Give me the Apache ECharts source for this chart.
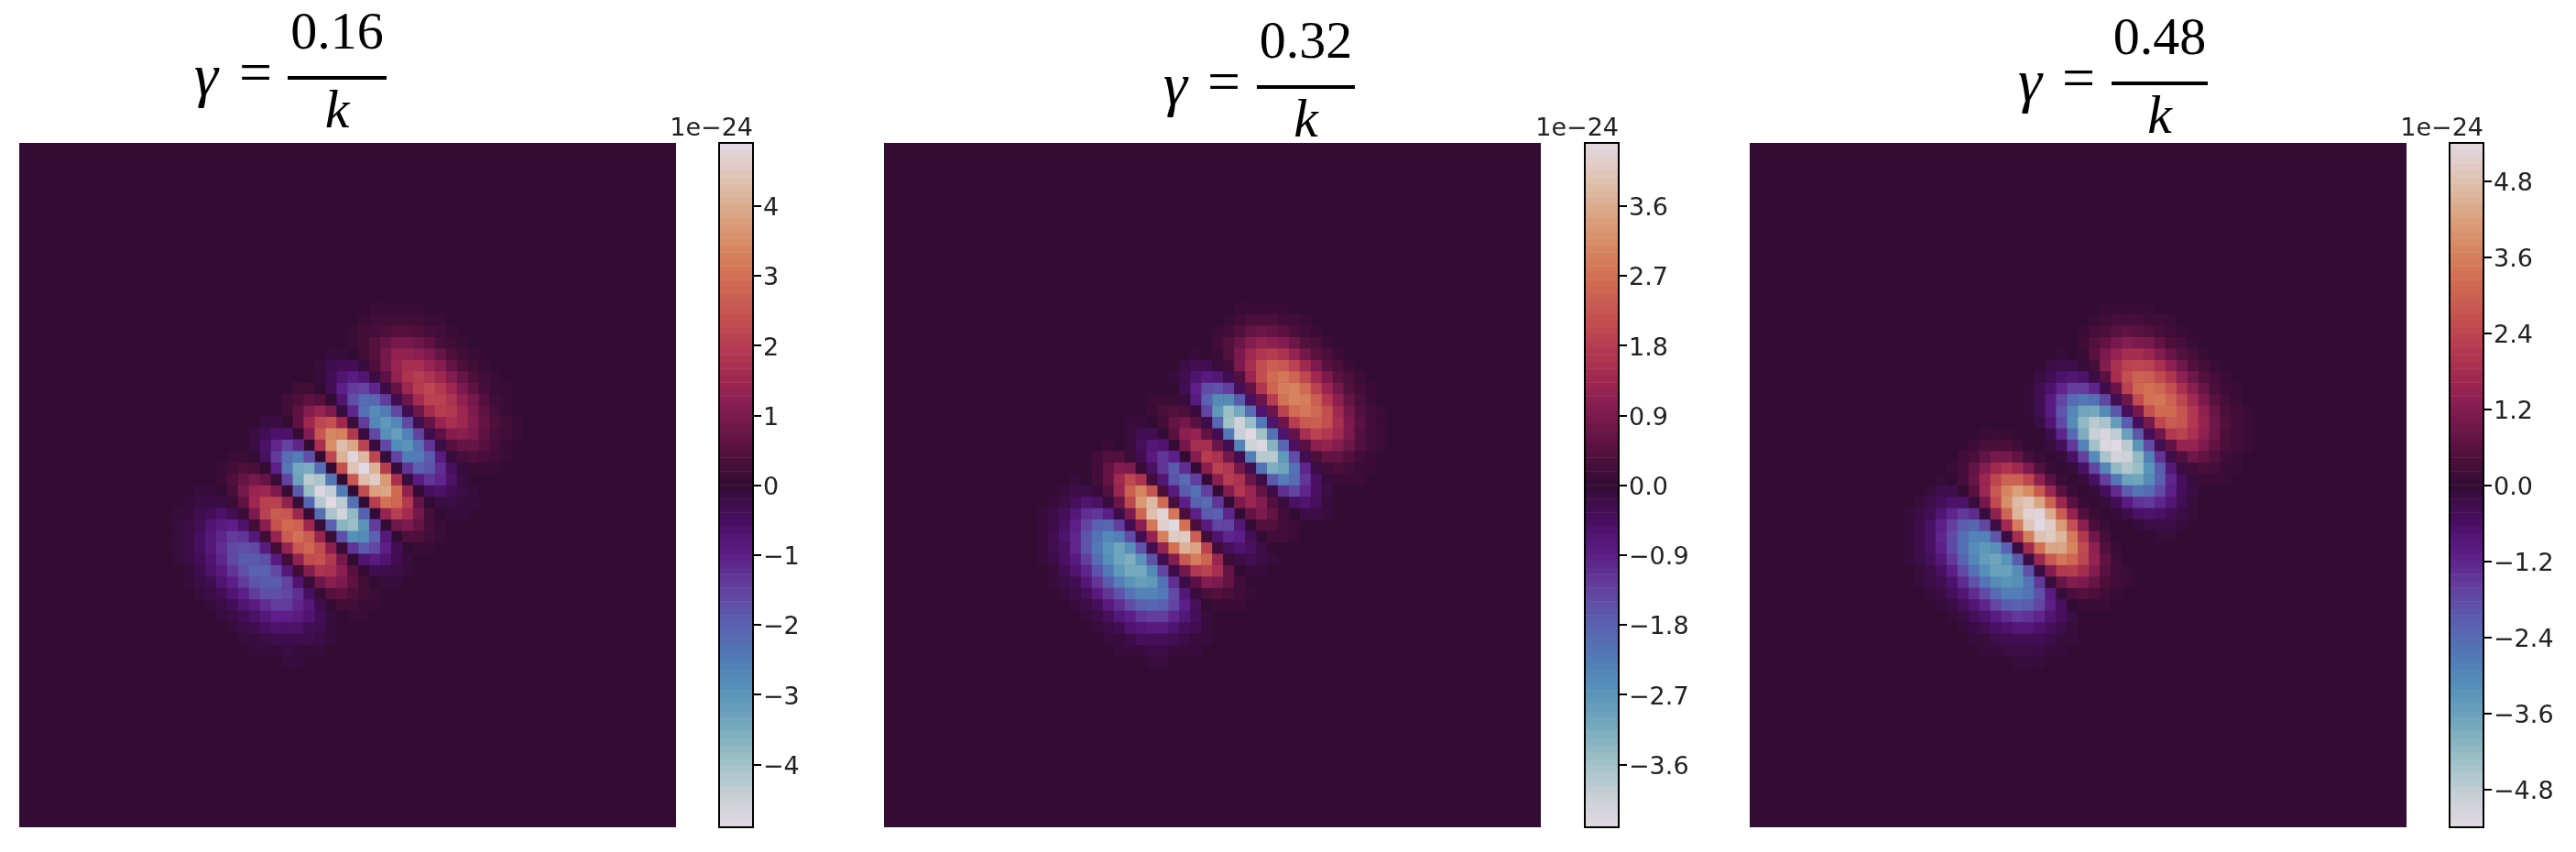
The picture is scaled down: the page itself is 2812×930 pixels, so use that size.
<!DOCTYPE html>
<html>

<head>
	<meta charset="utf-8">
	<title>gamma heatmaps</title>
	<script src="https://cdn.jsdelivr.net/npm/echarts@6/dist/echarts.min.js"></script>
	<style>
		html, body { margin: 0; padding: 0; background: #fff; }
	</style>
</head>

<body>
	<div id="main" style="width: 2812px;height: 930px;"></div>
	<script type="text/javascript">
		// values are read off the picture, in units of 0.1e-24
		// each line is one diagonal of the image (upper left to lower right), first line lower left of the pattern, last line upper right
		var panel1Diagonals = [
			[0,0,0,-1,-1,-1,-1,-1,-1,-1,0,0,0],
			[0,0,-1,-1,-2,-2,-2,-2,-2,-1,-1,0,0,0],
			[0,-1,-2,-3,-3,-4,-4,-4,-3,-2,-1,-1,0],
			[0,-1,-2,-4,-6,-7,-7,-7,-6,-5,-3,-2,-1,0],
			[-1,-2,-5,-7,-9,-10,-10,-9,-8,-6,-3,-1,0],
			[-1,-2,-5,-8,-11,-13,-14,-14,-12,-10,-6,-3,-1,0],
			[-1,-4,-8,-12,-16,-17,-18,-17,-14,-10,-6,-3,-1],
			[-1,-3,-7,-11,-16,-19,-20,-19,-17,-14,-9,-4,-2,0],
			[-2,-4,-9,-14,-17,-19,-20,-19,-16,-11,-7,-3,-1],
			[-1,-2,-6,-10,-13,-16,-17,-16,-15,-12,-8,-4,-1,0],
			[-1,-2,-4,-6,-8,-9,-9,-8,-7,-5,-3,-1,0],
			[0,0,1,1,2,2,2,2,2,1,1,0,0,0],
			[1,3,6,10,12,14,14,13,11,8,5,2,1],
			[1,4,9,15,21,24,26,25,23,18,12,6,2,1],
			[2,7,14,21,26,29,30,28,24,17,10,4,1],
			[1,4,9,15,21,25,27,26,23,19,12,6,2,1],
			[1,3,7,10,13,15,15,14,12,9,5,2,1],
			[0,0,0,1,1,1,1,1,1,1,0,0,0,0],
			[-2,-5,-10,-15,-19,-21,-22,-20,-17,-13,-7,-3,-1],
			[-2,-6,-14,-24,-33,-39,-42,-41,-37,-29,-19,-9,-3,-1],
			[-4,-11,-22,-34,-43,-48,-49,-46,-39,-28,-16,-7,-2],
			[-2,-6,-15,-25,-35,-41,-44,-43,-38,-30,-20,-10,-4,-1],
			[-2,-6,-11,-17,-22,-24,-25,-23,-20,-14,-8,-4,-1],
			[],
			[2,6,11,17,22,24,25,23,20,14,8,4,1],
			[2,6,15,25,35,41,44,43,38,30,20,10,4,1],
			[4,11,22,34,43,48,49,46,39,28,16,7,2],
			[2,6,14,24,33,39,42,41,37,29,19,9,3,1],
			[2,5,10,15,19,21,22,20,17,13,7,3,1],
			[0,0,0,-1,-1,-1,-1,-1,-1,-1,0,0,0,0],
			[-1,-4,-7,-11,-14,-16,-16,-15,-13,-9,-5,-2,-1],
			[-1,-4,-10,-17,-23,-27,-29,-28,-25,-20,-13,-6,-2,-1],
			[-3,-7,-14,-22,-28,-31,-32,-30,-25,-18,-11,-4,-1],
			[-1,-4,-9,-15,-21,-25,-27,-26,-23,-19,-12,-6,-2,-1],
			[-1,-4,-7,-11,-14,-16,-16,-15,-13,-9,-5,-2,-1],
			[0,0,-1,-2,-2,-3,-3,-3,-3,-2,-1,-1,0,0],
			[1,2,4,6,7,8,8,7,6,5,3,1,0],
			[1,2,5,9,13,15,16,16,14,11,7,4,1,0],
			[2,5,9,14,18,20,21,20,17,12,7,3,1],
			[1,3,7,13,17,20,22,21,19,15,10,5,2,0],
			[2,4,9,13,17,18,19,18,15,11,6,3,1],
			[1,2,5,9,12,14,15,15,13,10,7,3,1,0],
			[1,2,5,8,10,11,11,10,9,6,4,2,0],
			[0,1,2,4,6,7,7,7,6,5,3,2,1,0],
			[0,1,2,3,3,4,4,4,3,2,1,1,0],
			[0,0,1,1,2,2,2,2,2,1,1,0,0,0],
			[0,0,0,1,1,1,1,1,1,1,0,0,0]
		];
		var panel2Diagonals = [
			[0,0,0,-1,-1,-1,-1,-1,-1,-1,0,0,0],
			[0,0,-1,-1,-2,-2,-2,-2,-2,-1,-1,0,0,0],
			[0,-1,-2,-3,-3,-4,-4,-4,-3,-2,-1,-1,0],
			[0,-1,-3,-5,-6,-7,-8,-8,-7,-6,-4,-2,-1,0],
			[-1,-3,-5,-8,-10,-12,-12,-11,-9,-7,-4,-2,0],
			[-1,-2,-6,-10,-13,-16,-17,-16,-15,-12,-8,-4,-1,0],
			[-2,-5,-10,-16,-20,-22,-23,-21,-18,-13,-8,-3,-1],
			[-1,-4,-9,-16,-22,-26,-28,-27,-24,-19,-13,-6,-2,-1],
			[-2,-7,-14,-21,-27,-30,-31,-29,-24,-18,-10,-4,-1],
			[-1,-4,-11,-18,-25,-30,-32,-31,-28,-22,-14,-7,-3,-1],
			[-2,-6,-12,-19,-23,-26,-27,-25,-21,-15,-9,-4,-1],
			[-1,-2,-5,-9,-13,-15,-16,-16,-14,-11,-7,-4,-1,0],
			[0,-1,-1,-2,-3,-3,-3,-3,-2,-2,-1,0,0],
			[0,2,4,7,9,11,12,12,10,8,5,3,1,0],
			[2,6,13,20,25,28,29,27,23,17,10,4,1],
			[2,6,14,24,33,39,42,41,37,29,19,9,3,1],
			[4,10,20,30,38,43,44,41,35,25,15,6,2],
			[1,4,9,16,22,26,28,27,24,19,13,6,2,1],
			[0,1,1,2,3,3,3,3,2,2,1,0,0],
			[0,-1,-3,-5,-7,-8,-9,-9,-8,-6,-4,-2,-1,0],
			[-1,-4,-8,-12,-16,-17,-18,-17,-14,-10,-6,-3,-1],
			[-1,-3,-7,-12,-17,-20,-21,-20,-18,-14,-9,-5,-2,0],
			[-1,-3,-6,-9,-11,-13,-13,-12,-10,-7,-4,-2,-1],
			[],
			[1,2,5,8,10,11,11,10,9,6,4,2,0],
			[1,3,6,11,15,18,19,18,17,13,9,4,2,0],
			[1,4,8,12,15,16,17,16,13,10,6,2,1],
			[0,1,3,5,6,7,8,8,7,6,4,2,1,0],
			[0,-1,-1,-2,-3,-3,-3,-3,-2,-2,-1,0,0],
			[-1,-3,-8,-14,-19,-22,-24,-23,-21,-17,-11,-5,-2,0],
			[-3,-9,-18,-28,-36,-40,-41,-38,-32,-23,-14,-6,-2],
			[-2,-6,-15,-25,-35,-41,-44,-43,-38,-30,-20,-10,-4,-1],
			[-3,-8,-16,-25,-31,-35,-36,-33,-28,-21,-12,-5,-1],
			[-1,-3,-7,-13,-17,-20,-22,-21,-19,-15,-10,-5,-2,0],
			[0,-1,-3,-4,-5,-6,-6,-6,-5,-3,-2,-1,0],
			[0,1,2,4,6,7,7,7,6,5,3,2,1,0],
			[2,4,9,13,17,18,19,18,15,11,6,3,1],
			[1,4,9,15,21,25,27,26,23,19,12,6,2,1],
			[2,7,14,21,26,29,30,28,24,17,10,4,1],
			[1,4,10,17,24,28,30,29,26,21,14,7,2,1],
			[2,6,12,18,23,25,26,24,21,15,9,4,1],
			[1,3,7,11,16,19,20,19,17,14,9,4,2,0],
			[1,3,6,10,12,14,14,13,11,8,5,2,1],
			[0,1,3,5,7,8,9,9,8,6,4,2,1,0],
			[0,1,2,3,4,5,5,5,4,3,2,1,0],
			[0,0,1,2,2,3,3,3,3,2,1,1,0,0],
			[0,0,0,1,1,1,1,1,1,1,0,0,0]
		];
		var panel3Diagonals = [
			[0,0,0,-1,-1,-1,-1,-1,-1,-1,0,0,0],
			[0,0,-1,-1,-2,-2,-2,-2,-2,-1,-1,0,0,0],
			[0,-1,-2,-3,-4,-5,-5,-5,-4,-3,-2,-1,0],
			[0,-1,-3,-5,-6,-7,-8,-8,-7,-6,-4,-2,-1,0],
			[-1,-3,-6,-9,-11,-13,-13,-12,-10,-7,-4,-2,-1],
			[-1,-3,-6,-11,-15,-18,-19,-18,-17,-13,-9,-4,-2,0],
			[-2,-6,-12,-18,-23,-25,-26,-24,-21,-15,-9,-4,-1],
			[-1,-4,-11,-18,-25,-30,-32,-31,-28,-22,-14,-7,-3,-1],
			[-3,-8,-16,-25,-31,-35,-36,-33,-28,-21,-12,-5,-1],
			[-1,-5,-12,-21,-29,-34,-37,-36,-32,-26,-17,-8,-3,-1],
			[-3,-7,-15,-23,-29,-32,-33,-31,-26,-19,-11,-5,-1],
			[-1,-3,-7,-13,-17,-20,-22,-21,-19,-15,-10,-5,-2,0],
			[0,0,-1,-1,-2,-2,-2,-2,-2,-1,-1,0,0],
			[1,3,6,10,14,17,18,17,16,12,8,4,1,0],
			[3,8,16,25,31,35,36,33,28,21,12,5,1],
			[2,7,16,28,39,46,49,48,43,34,22,11,4,1],
			[4,12,24,37,47,52,54,50,43,31,18,8,2],
			[2,7,17,30,42,49,53,51,46,37,24,12,4,1],
			[4,10,20,30,38,43,44,41,35,25,15,6,2],
			[1,4,10,17,24,28,30,29,26,21,14,7,2,1],
			[1,4,7,11,14,16,16,15,13,9,5,2,1],
			[0,1,2,3,5,6,6,6,5,4,3,1,0,0],
			[0,0,0,1,1,1,1,1,1,1,0,0,0],
			[],
			[0,0,0,-1,-1,-1,-1,-1,-1,-1,0,0,0],
			[0,-1,-2,-3,-5,-6,-6,-6,-5,-4,-3,-1,0,0],
			[-1,-4,-8,-12,-15,-16,-17,-16,-13,-10,-6,-2,-1],
			[-1,-4,-10,-18,-24,-29,-31,-30,-27,-21,-14,-7,-2,-1],
			[-4,-10,-20,-31,-39,-44,-45,-42,-36,-26,-15,-6,-2],
			[-2,-7,-17,-30,-42,-49,-53,-51,-46,-37,-24,-12,-4,-1],
			[-4,-12,-24,-37,-47,-52,-54,-50,-43,-31,-18,-8,-2],
			[-2,-7,-16,-27,-38,-45,-48,-47,-42,-33,-22,-11,-4,-1],
			[-3,-8,-16,-25,-31,-35,-36,-33,-28,-21,-12,-5,-1],
			[-1,-3,-7,-12,-17,-20,-21,-20,-18,-14,-9,-5,-2,0],
			[0,-1,-2,-3,-4,-5,-5,-5,-4,-3,-2,-1,0],
			[0,1,3,6,8,9,10,10,9,7,5,2,1,0],
			[2,6,12,18,23,25,26,24,21,15,9,4,1],
			[1,5,11,19,26,31,33,32,29,23,15,7,3,1],
			[3,7,15,23,30,33,34,32,27,19,11,5,1],
			[1,4,10,18,24,29,31,30,27,21,14,7,2,1],
			[2,6,12,18,23,25,26,24,21,15,9,4,1],
			[1,3,7,11,16,19,20,19,17,14,9,4,2,0],
			[1,3,6,10,12,14,14,13,11,8,5,2,1],
			[0,1,3,5,7,8,9,9,8,6,4,2,1,0],
			[0,1,2,3,4,5,5,5,4,3,2,1,0],
			[0,0,1,2,2,3,3,3,3,2,1,1,0,0],
			[0,0,0,1,1,1,1,1,1,1,0,0,0]
		];

		var numerators = ['0.16', '0.32', '0.48'];
		var colorLimits = [4.9, 4.41, 5.4];
		var tickValues = [
			[-4, -3, -2, -1, 0, 1, 2, 3, 4],
			[-3.6, -2.7, -1.8, -0.9, 0, 0.9, 1.8, 2.7, 3.6],
			[-4.8, -3.6, -2.4, -1.2, 0, 1.2, 2.4, 3.6, 4.8]
		];
		var tickDecimals = [0, 1, 1];
		// bands of the colour bar, as a share of the colour limit
		var barLevels = [-0.99, -0.97, -0.95, -0.93, -0.91, -0.89, -0.87, -0.85, -0.83, -0.81, -0.79, -0.77, -0.75, -0.73, -0.71, -0.69, -0.67, -0.65, -0.63, -0.61, -0.59, -0.57, -0.55, -0.53, -0.51, -0.49, -0.47, -0.45, -0.43, -0.41, -0.39, -0.37, -0.35, -0.33, -0.31, -0.29, -0.27, -0.25, -0.23, -0.21, -0.19, -0.17, -0.15, -0.13, -0.11, -0.09, -0.07, -0.05, -0.03, -0.01, 0.01, 0.03, 0.05, 0.07, 0.09, 0.11, 0.13, 0.15, 0.17, 0.19, 0.21, 0.23, 0.25, 0.27, 0.29, 0.31, 0.33, 0.35, 0.37, 0.39, 0.41, 0.43, 0.45, 0.47, 0.49, 0.51, 0.53, 0.55, 0.57, 0.59, 0.61, 0.63, 0.65, 0.67, 0.69, 0.71, 0.73, 0.75, 0.77, 0.79, 0.81, 0.83, 0.85, 0.87, 0.89, 0.91, 0.93, 0.95, 0.97, 0.99];

		// twilight_shifted, by eye
		var colormap = ['#e2d9e2', '#c5cfd5', '#9bbfc6', '#74a8bd', '#5692b9', '#5279b6', '#5a5fb0', '#64409f', '#5c1d87', '#470f5e', '#330c34', '#55103f', '#7b1a4f', '#9c2650', '#b53a50', '#c65450', '#d16d52', '#d68a62', '#dba786', '#dfc4b5', '#e2d9e2'];
		var zeroColor = '#330c34';

		var panels = [panel1Diagonals, panel2Diagonals, panel3Diagonals];
		var imageLeft = [21, 965, 1910];
		var barLeft = [785, 1730, 2674];
		var plotTop = 156;
		var plotWidth = 717;
		var plotHeight = 747;
		var barWidth = 37;
		var cells = 60;
		// title layout: gamma x, equals x, fraction rule start, end, rule y
		var titleLayout = [
			[225, 279, 314, 422, 85],
			[1283, 1336, 1372, 1479, 95],
			[2216, 2269, 2305, 2410, 91]
		];

		var cellIndex = [];
		for (var c = 0; c < cells; c++) cellIndex.push(c);

		// walk the diagonals onto image cells
		function toCells(diagonals) {
			var out = [];
			diagonals.forEach(function (line, n) {
				var k = n - 23;
				var first = k % 2 === 0 ? -13 : -12;
				line.forEach(function (v, p) {
					var m = first + 2 * p;
					var col = cells / 2 + (k + m - 1) / 2;
					var row = cells / 2 + (m - 1 - k) / 2;
					out.push([col, row, v / 10]);
				});
			});
			return out;
		}

		var grid = [], xAxis = [], yAxis = [], series = [], visualMap = [], graphic = [];
		var blackLine = { show: true, onZero: false, lineStyle: { color: '#000', width: 2 } };

		panels.forEach(function (diagonals, p) {
			var limit = colorLimits[p];

			// image
			grid.push({
				left: imageLeft[p], top: plotTop, width: plotWidth, height: plotHeight,
				show: true, backgroundColor: zeroColor, borderWidth: 0
			});
			var imageGrid = grid.length - 1;
			xAxis.push({ gridIndex: imageGrid, type: 'category', data: cellIndex, show: false });
			yAxis.push({ gridIndex: imageGrid, type: 'category', data: cellIndex, inverse: true, show: false });
			var imageX = xAxis.length - 1, imageY = yAxis.length - 1;
			series.push({
				type: 'heatmap', xAxisIndex: imageX, yAxisIndex: imageY,
				data: toCells(diagonals), progressive: 0, silent: true, animation: false
			});
			var imageSeries = series.length - 1;

			// colour bar
			grid.push({ left: barLeft[p], top: plotTop, width: barWidth, height: plotHeight });
			var barGrid = grid.length - 1;
			xAxis.push({
				gridIndex: barGrid, type: 'category', data: [''], position: 'bottom', z: 5,
				axisLine: blackLine, axisTick: { show: false }, axisLabel: { show: false }
			});
			var barX = xAxis.length - 1;
			xAxis.push({
				gridIndex: barGrid, type: 'category', data: [''], position: 'top', z: 5,
				axisLine: blackLine, axisTick: { show: false }, axisLabel: { show: false }
			});
			yAxis.push({
				gridIndex: barGrid, type: 'category', data: barLevels, position: 'left', z: 5,
				axisLine: blackLine, axisTick: { show: false }, axisLabel: { show: false }, splitLine: { show: false }
			});
			var barY = yAxis.length - 1;
			yAxis.push({
				gridIndex: barGrid, type: 'value', position: 'right', min: -limit, max: limit, z: 5,
				splitLine: { show: false },
				axisLine: blackLine,
				axisTick: { show: true, length: 9, lineStyle: { color: '#000', width: 2 }, customValues: tickValues[p] },
				axisLabel: {
					show: true, customValues: tickValues[p], margin: 11,
					formatter: function (v) { return '{t|' + v.toFixed(tickDecimals[p]).replace('-', '\u2212') + '}'; },
					rich: { t: { color: '#222', fontFamily: 'DejaVu Sans', fontSize: 27, padding: [7, 0, 0, 0] } }
				}
			});
			series.push({
				type: 'heatmap', xAxisIndex: barX, yAxisIndex: barY,
				data: barLevels.map(function (f, i) { return [0, i, f * limit]; }),
				progressive: 0, silent: true, animation: false
			});

			visualMap.push({
				type: 'continuous', show: false, min: -limit, max: limit,
				seriesIndex: [imageSeries, series.length - 1],
				inRange: { color: colormap }
			});

			// offset text above the colour bar
			graphic.push({
				type: 'text', x: barLeft[p] + barWidth, y: 141,
				style: { text: '1e\u221224', align: 'right', verticalAlign: 'middle', font: '27px "DejaVu Sans"', fill: '#222' }
			});

			// title
			var t = titleLayout[p];
			var mid = (t[2] + t[3]) / 2;
			graphic.push({
				type: 'text', x: t[0], y: t[4] + 2,
				style: { text: '\u03b3', align: 'center', verticalAlign: 'middle', font: 'italic 66px "Liberation Serif"', fill: '#000' }
			});
			graphic.push({
				type: 'text', x: t[1], y: t[4] - 2,
				style: { text: '=', align: 'center', verticalAlign: 'middle', font: '64px "Liberation Serif"', fill: '#000' }
			});
			graphic.push({
				type: 'text', x: mid, y: t[4] - 47,
				style: { text: numerators[p], align: 'center', verticalAlign: 'middle', font: '58px "Liberation Serif"', fill: '#000' }
			});
			graphic.push({
				type: 'line',
				shape: { x1: t[2], y1: t[4], x2: t[3], y2: t[4] },
				style: { stroke: '#000', lineWidth: 4 }
			});
			graphic.push({
				type: 'text', x: mid, y: t[4] + 38,
				style: { text: 'k', align: 'center', verticalAlign: 'middle', font: 'italic 60px "Liberation Serif"', fill: '#000' }
			});
		});

		var myChart = echarts.init(document.getElementById('main'));
		myChart.setOption({
			animation: false,
			backgroundColor: '#fff',
			grid: grid,
			xAxis: xAxis,
			yAxis: yAxis,
			visualMap: visualMap,
			series: series,
			graphic: graphic
		});
	</script>
</body>

</html>
